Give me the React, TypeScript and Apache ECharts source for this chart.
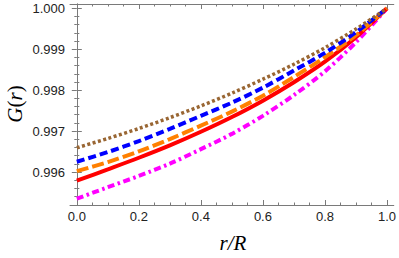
import React, { useEffect, useRef } from 'react';
import * as echarts from 'echarts';

const rValues = [0, 0.1, 0.2, 0.3, 0.4, 0.5, 0.6, 0.7, 0.8, 0.9, 1.0];
const brownDotted = [0.996593, 0.99682, 0.997063, 0.997329, 0.997615, 0.997927, 0.998268, 0.998634, 0.999037, 0.999493, 1.0];
const blueDashed = [0.996251, 0.996488, 0.996756, 0.997056, 0.997373, 0.997695, 0.998061, 0.99848, 0.99891, 0.999415, 1.0];
const orangeLongDash = [0.996024, 0.996244, 0.996505, 0.996805, 0.997134, 0.997476, 0.997866, 0.998322, 0.998805, 0.999341, 1.0];
const redSolid = [0.995788, 0.996066, 0.996349, 0.996651, 0.996983, 0.997344, 0.997744, 0.998193, 0.998695, 0.999295, 1.0];
const magentaDotDash = [0.995349, 0.995629, 0.995905, 0.996205, 0.996559, 0.996932, 0.997373, 0.99788, 0.998459, 0.999171, 1.0];

const xMajorTicks = [0, 0.2, 0.4, 0.6, 0.8, 1.0];
const xMinorTicks = [0.05, 0.1, 0.15, 0.25, 0.3, 0.35, 0.45, 0.5, 0.55, 0.65, 0.7, 0.75, 0.85, 0.9, 0.95];
const yMajorTicks = [0.996, 0.997, 0.998, 0.999, 1.0];
const yMinorTicks = [0.9954, 0.9956, 0.9958, 0.9962, 0.9964, 0.9966, 0.9968, 0.9972, 0.9974, 0.9976, 0.9978, 0.9982, 0.9984, 0.9986, 0.9988, 0.9992, 0.9994, 0.9996, 0.9998];

const X_MIN = -0.022;
const X_MAX = 1.022;
const Y_MIN = 0.995195;
const Y_MAX = 1.000105;

const AXIS_COLOR = '#7a7a7a';
const LABEL_COLOR = '#222222';
const SANS = "'Liberation Sans', Arial, Helvetica, sans-serif";
const SERIF = "'Liberation Serif', 'Times New Roman', Times, serif";

function makeXAxis(position: 'top' | 'bottom', major: boolean, labels: boolean) {
  return {
    type: 'value',
    position,
    min: X_MIN,
    max: X_MAX,
    axisLine: { show: major, lineStyle: { color: AXIS_COLOR, width: 1 } },
    axisTick: {
      show: true,
      inside: true,
      length: major ? 5 : 2.5,
      customValues: major ? xMajorTicks : xMinorTicks,
      lineStyle: { color: AXIS_COLOR, width: 1 },
    },
    axisLabel: {
      show: labels,
      customValues: xMajorTicks,
      margin: 5,
      color: LABEL_COLOR,
      fontFamily: SANS,
      fontSize: 13,
      formatter: (v: number) => v.toFixed(1),
    },
    splitLine: { show: false },
  };
}

function makeYAxis(position: 'left' | 'right', major: boolean, labels: boolean) {
  return {
    type: 'value',
    position,
    min: Y_MIN,
    max: Y_MAX,
    axisLine: { show: major, lineStyle: { color: AXIS_COLOR, width: 1 } },
    axisTick: {
      show: true,
      inside: true,
      length: major ? 5 : 2.5,
      customValues: major ? yMajorTicks : yMinorTicks,
      lineStyle: { color: AXIS_COLOR, width: 1 },
    },
    axisLabel: {
      show: labels,
      customValues: yMajorTicks,
      margin: 5,
      color: LABEL_COLOR,
      fontFamily: SANS,
      fontSize: 13,
      formatter: (v: number) => v.toFixed(3),
    },
    splitLine: { show: false },
  };
}

function seriesOf(name: string, values: number[], color: string, width: number, type: any, z: number) {
  return {
    name,
    type: 'line',
    xAxisIndex: 0,
    yAxisIndex: 0,
    data: rValues.map((r, i) => [r, values[i]]),
    showSymbol: false,
    symbol: 'none',
    smooth: 0.3,
    z,
    lineStyle: { color, width, type, cap: 'butt' },
  };
}

export default function App() {
  const ref = useRef<HTMLDivElement>(null);
  useEffect(() => {
    if (!ref.current) return;
    const chart = echarts.init(ref.current, undefined, { renderer: 'svg' });
    chart.setOption({
      animation: false,
      backgroundColor: '#ffffff',
      grid: { left: 70, right: 3, top: 4, bottom: 53, containLabel: false },
      xAxis: [
        makeXAxis('bottom', true, true),
        makeXAxis('bottom', false, false),
        makeXAxis('top', true, false),
        makeXAxis('top', false, false),
      ],
      yAxis: [
        makeYAxis('left', true, true),
        makeYAxis('left', false, false),
        makeYAxis('right', true, false),
        makeYAxis('right', false, false),
      ],
      series: [
        seriesOf('magenta', magentaDotDash, '#FF00FF', 4, [7, 3.5, 2.5, 3.5], 2),
        seriesOf('red', redSolid, '#FF0000', 4, 'solid', 3),
        seriesOf('orange', orangeLongDash, '#FF8000', 4, [12, 4], 4),
        seriesOf('blue', blueDashed, '#0000FF', 4, [8, 4], 5),
        seriesOf('brown', brownDotted, '#996633', 3.5, [3, 2.5], 6),
      ],
      graphic: [
        {
          type: 'text',
          x: 15,
          y: 104,
          rotation: Math.PI / 2,
          style: {
            text: '{i|G}{n|(}{i|r}{n|)}',
            fill: '#000000',
            align: 'center',
            verticalAlign: 'middle',
            rich: {
              i: { fontFamily: SERIF, fontStyle: 'italic', fontSize: 21, fill: '#000000' },
              n: { fontFamily: SERIF, fontSize: 21, fill: '#000000' },
            },
          },
        },
        {
          type: 'text',
          x: 233,
          y: 243,
          style: {
            text: 'r/R',
            fill: '#000000',
            font: `italic 21px ${SERIF}`,
            align: 'center',
            verticalAlign: 'middle',
          },
        },
      ],
    });
    return () => chart.dispose();
  }, []);
  return <div ref={ref} style={{ width: 399, height: 258, position: 'absolute', left: 0, top: 0 }} />;
}
